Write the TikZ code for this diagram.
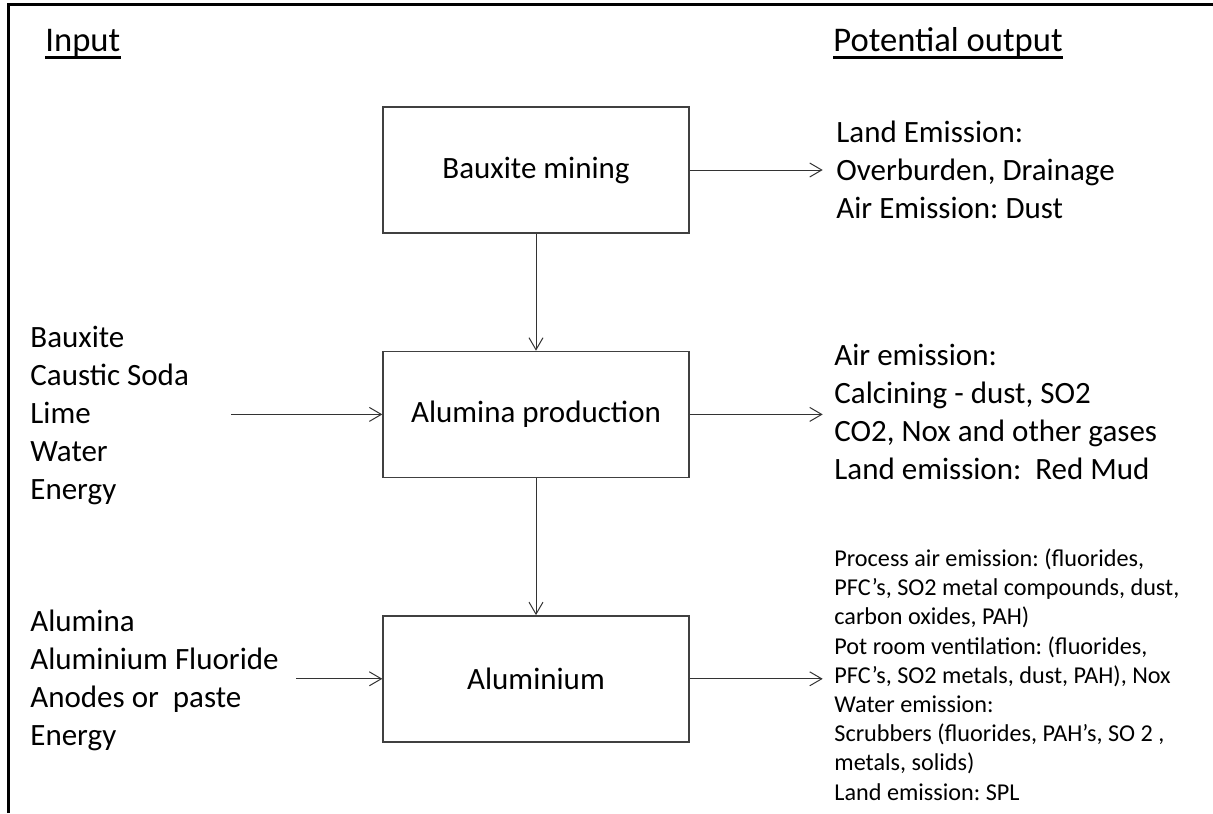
\documentclass[tikz,border=0pt]{standalone}
\usepackage{fontspec}
\setmainfont{Carlito}
\usetikzlibrary{positioning,arrows.meta}
\frenchspacing

\begin{document}
\begin{tikzpicture}[
    x=0.5pt, y=0.5pt,
    stage/.style={draw=black!75, line width=0.7pt, minimum width=153pt, minimum height=63pt, align=center, font=\fontsize{15.5}{18.9}\selectfont},
    arrow/.style={-{Straight Barb[length=6pt,width=7pt]}, draw=black!80, line width=0.5pt},
    head/.style={inner sep=0pt, anchor=base west, font=\fontsize{17.3}{20}\selectfont},
    list/.style={inner sep=0pt, align=left, anchor=base west, font=\fontsize{15.5}{18.9}\selectfont},
    smalllist/.style={inner sep=0pt, align=left, anchor=base west, font=\fontsize{12.1}{14.6}\selectfont}
]
    \useasboundingbox (0,0) rectangle (1213,-813);
    % frame (cut off at right and bottom)
    \draw[line width=1.5pt] (8.5,-813) |- (1213,-5);

    % headings
    \node[head] (inhead) at (45,-52) {Input};
    \node[head] (outhead) at (833,-52) {Potential output};
    \draw[line width=1.6pt] ([yshift=-2.6pt]inhead.base west) -- ([yshift=-2.6pt]inhead.base east);
    \draw[line width=1.6pt] ([yshift=-2.6pt]outhead.base west) -- ([yshift=-2.6pt]outhead.base east);

    % process chain
    \node[stage] (mining) at (536,-170) {Bauxite mining};
    \node[stage, below=58.5pt of mining] (alumina) {Alumina production};
    \node[stage, below=68.5pt of alumina] (smelter) {Aluminium};

    \draw[arrow] (mining) -- (alumina);
    \draw[arrow] (alumina) -- (smelter);

    % inputs (base = last line)
    \node[list] (feedA) at (30,-499) {Bauxite\\Caustic Soda\\Lime\\Water\\Energy};
    \node[list] (feedB) at (30,-745) {Alumina\\Aluminium Fluoride\\Anodes or\ \ paste\\Energy};
    \coordinate (feedAend) at ([shift={(-151,0)}]alumina.west);
    \coordinate (feedBend) at ([shift={(-86,0)}]smelter.west);
    \draw[arrow] (feedAend) -- (alumina.west);
    \draw[arrow] (feedBend) -- (smelter.west);

    % outputs
    \node[list] (wasteA) at (836,-218) {Land Emission:\\Overburden, Drainage\\Air Emission: Dust};
    \node[list] (wasteB) at (834,-479) {Air emission:\\Calcining - dust, SO2\\CO2, Nox and other gases\\Land emission:\ \ Red Mud};
    \node[smalllist] (wasteC) at (834,-800) {Process air emission: (fluorides,\\PFC’s, SO2 metal compounds, dust,\\carbon oxides, PAH)\\Pot room ventilation: (fluorides,\\PFC’s, SO2 metals, dust, PAH), Nox\\Water emission:\\Scrubbers (fluorides, PAH’s, SO 2 ,\\metals, solids)\\Land emission: SPL};
    \coordinate (wasteAtip) at ([shift={(133,0)}]mining.east);
    \coordinate (wasteBtip) at ([shift={(133,0)}]alumina.east);
    \coordinate (wasteCtip) at ([shift={(133,0)}]smelter.east);
    \draw[arrow] (mining.east) -- (wasteAtip);
    \draw[arrow] (alumina.east) -- (wasteBtip);
    \draw[arrow] (smelter.east) -- (wasteCtip);
\end{tikzpicture}
\end{document}
